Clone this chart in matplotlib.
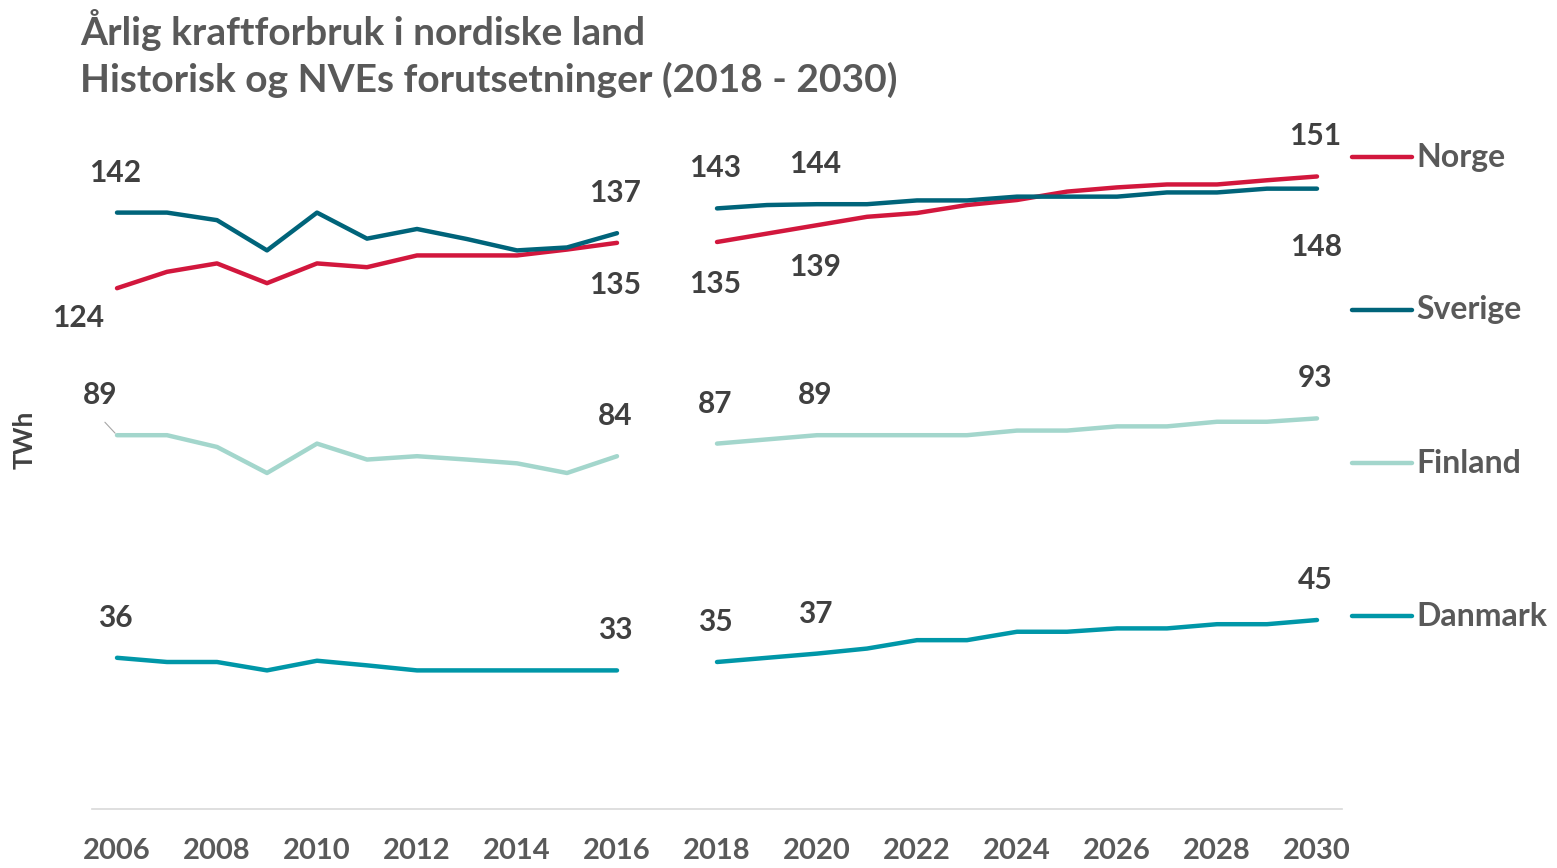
import matplotlib
matplotlib.use('Agg')
import matplotlib.pyplot as plt
from matplotlib.lines import Line2D

plt.rcParams['font.family'] = ['Lato', 'DejaVu Sans']
plt.rcParams['font.weight'] = 'bold'

# data (TWh)
years_hist = [2006, 2007, 2008, 2009, 2010, 2011, 2012, 2013, 2014, 2015, 2016]
years_proj = [2018, 2019, 2020, 2021, 2022, 2023, 2024, 2025, 2026, 2027, 2028, 2029, 2030]

norge_hist = [124, 127.9, 129.9, 125.2, 129.9, 129.0, 131.8, 131.8, 131.8, 133.2, 134.8]
norge_proj = [135, 137.0, 139.0, 141.0, 141.9, 143.8, 145.0, 147.0, 148.0, 148.7, 148.7, 149.7, 150.6]
sverige_hist = [142, 142, 140.2, 133.0, 142, 135.8, 138.1, 135.7, 133.0, 133.7, 137.1]
sverige_proj = [143, 143.8, 144.0, 144.0, 144.9, 144.9, 145.8, 145.8, 145.8, 146.8, 146.8, 147.7, 147.7]
finland_hist = [89, 89, 86.2, 80.0, 87.0, 83.2, 84.0, 83.2, 82.3, 80.0, 84.0]
finland_proj = [87, 88.0, 89.0, 89.0, 89.0, 89.0, 90.1, 90.1, 91.1, 91.1, 92.2, 92.2, 93.0]
danmark_hist = [36, 35.0, 35.0, 33.0, 35.3, 34.2, 33.0, 33.0, 33.0, 33.0, 33.0]
danmark_proj = [35, 36.0, 37.0, 38.2, 40.2, 40.2, 42.2, 42.2, 43.0, 43.0, 44.0, 44.0, 45.0]

countries = ['Norge', 'Sverige', 'Finland', 'Danmark']
colors = ['#D2173D', '#00647A', '#A3D6CC', '#0097A8']
label_years = [2006, 2016, 2018, 2020, 2030]
tick_years = [2006, 2008, 2010, 2012, 2014, 2016, 2018, 2020, 2022, 2024, 2026, 2028, 2030]

series = {
    'Norge': (norge_hist, norge_proj),
    'Sverige': (sverige_hist, sverige_proj),
    'Finland': (finland_hist, finland_proj),
    'Danmark': (danmark_hist, danmark_proj),
}

# label offsets in pixels (dx, dy); default above the point
below = {('Norge', 2006): (-39, -30), ('Norge', 2016): (-2, -42), ('Norge', 2018): (-2, -42),
         ('Norge', 2020): (-2, -42), ('Sverige', 2030): (-1, -58), ('Finland', 2006): (-17, 40)}

W, H = 1557, 868
fig = plt.figure(figsize=(W / 100, H / 100), dpi=100)
y0_px, px_per_unit = 809, 4.2
ax = fig.add_axes([92 / W, (H - y0_px) / H, 1250 / W, 160 * px_per_unit / H])
ax.set_xlim(2005.5, 2030.5)
ax.set_ylim(0, 160)

text_col = '#404040'
grey = '#595959'

for name, col in zip(countries, colors):
    hist, proj = series[name]
    ax.plot(years_hist, hist, color=col, lw=3.2, solid_capstyle='round', zorder=3)
    ax.plot(years_proj, proj, color=col, lw=3.2, solid_capstyle='round', zorder=3)
    yrs = years_hist + years_proj
    vals = hist + proj
    for yr in label_years:
        v = vals[yrs.index(yr)]
        dx, dy = below.get((name, yr), (-2, 40))
        ax.annotate(f'{round(v)}', (yr, v), xytext=(dx, dy), textcoords='offset pixels',
                    ha='center', va='center', fontsize=21.5, color=text_col,
                    fontweight='bold', annotation_clip=False)

# leader line for Finland 2006 label
ax.annotate('', (years_hist[0], finland_hist[0]), xytext=(-14, 15), textcoords='offset pixels',
            arrowprops=dict(arrowstyle='-', color='#A6A6A6', lw=0.8))

for s in ['top', 'right', 'left']:
    ax.spines[s].set_visible(False)
ax.spines['bottom'].set_color('#D9D9D9')
ax.spines['bottom'].set_linewidth(1.2)
ax.set_yticks([])
ax.set_xticks(tick_years)
ax.set_xticklabels([str(y) for y in tick_years], fontsize=21, color=grey, fontweight='bold')
ax.tick_params(axis='x', length=0, pad=21)

fig.text(25 / W, 1 - 440 / H, 'TWh', rotation=90, ha='center', va='center',
         fontsize=19, color=text_col, fontweight='bold')

fig.text(80 / W, 1 - 30 / H, 'Årlig kraftforbruk i nordiske land', ha='left', va='center',
         fontsize=28, color=grey, fontweight='bold')
fig.text(80 / W, 1 - 80 / H, 'Historisk og NVEs forutsetninger (2018 - 2030)', ha='left', va='center',
         fontsize=28, color=grey, fontweight='bold')

# legend on the right
for i, (name, col) in enumerate(zip(countries, colors)):
    yy = 1 - (157 + i * 153) / H
    fig.add_artist(Line2D([1352 / W, 1412 / W], [yy, yy], color=col, lw=3.2,
                          solid_capstyle='round', transform=fig.transFigure))
    fig.text(1416 / W, yy, name, ha='left', va='center', fontsize=23, color=grey, fontweight='bold')

fig.savefig('out.png', dpi=100)
